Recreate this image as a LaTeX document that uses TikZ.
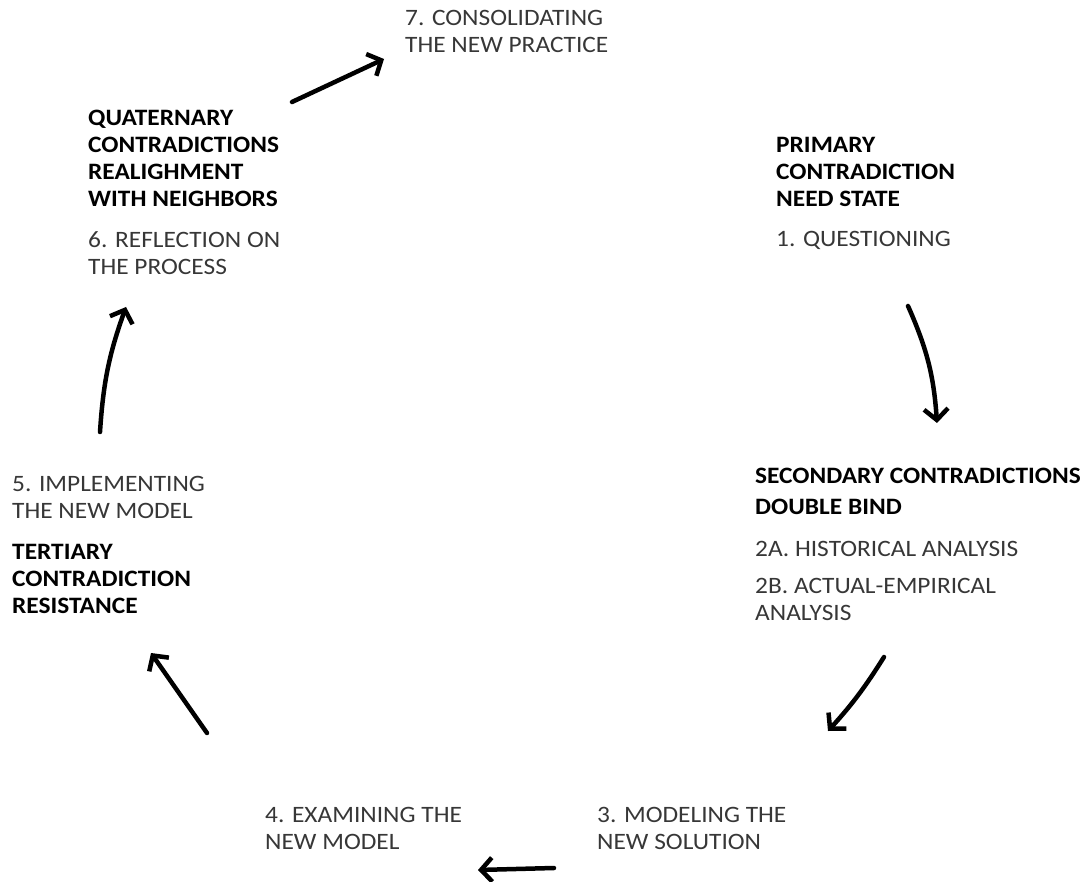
\documentclass[tikz,border=0pt]{standalone}
\usepackage{fontspec}
\setmainfont[FakeStretch=1.08]{Carlito}
\usepackage{xcolor}
\usepackage{tikz}
\usetikzlibrary{arrows.meta}
\tikzset{
  font={\fontsize{23.5pt}{27}\selectfont}
}
\definecolor{colorT}{RGB}{55,55,55}
\tikzstyle{line}=[draw, -{Straight Barb[length=11pt,width=24pt]}, line width=4.5pt, line cap=round, line join=round]
\tikzstyle{lab}=[anchor=north west, inner sep=0pt, align=left, text=colorT]
\newcommand{\hd}[1]{\textcolor{black}{\textbf{#1}}}

\begin{document}
\begin{tikzpicture}[x=1pt, y=1pt]
\useasboundingbox (0,0) rectangle (1085,-882);

%%% Stages
\node[lab] (consolidating) at (405,-10) {7. CONSOLIDATING\\THE NEW PRACTICE};
\node[lab] (quaternary) at (88,-110) {\hd{QUATERNARY}\\\hd{CONTRADICTIONS}\\\hd{REALIGHMENT}\\\hd{WITH NEIGHBORS}\\[14pt]6. REFLECTION ON\\THE PROCESS};
\node[lab] (primary) at (776,-137) {\hd{PRIMARY}\\\hd{CONTRADICTION}\\\hd{NEED STATE}\\[13pt]1. QUESTIONING};
\node[lab] (secondary) at (755,-468) {\hd{SECONDARY CONTRADICTIONS}\\[4pt]\hd{DOUBLE BIND}\\[15pt]2A. HISTORICAL ANALYSIS\\[10pt]2B. ACTUAL-EMPIRICAL\\ANALYSIS};
\node[lab] (modeling) at (597,-807) {3. MODELING THE\\NEW SOLUTION};
\node[lab] (examining) at (265,-807) {4. EXAMINING THE\\NEW MODEL};
\node[lab] (tertiary) at (12,-476) {5. IMPLEMENTING\\THE NEW MODEL\\[14pt]\hd{TERTIARY}\\\hd{CONTRADICTION}\\\hd{RESISTANCE}};

%%% Arrow ends
\coordinate (a1) at (292,-102);
\coordinate (b1) at (384,-59);
\coordinate (a2) at (908,-306);
\coordinate (b2) at (937,-423);
\coordinate (a3) at (884,-657);
\coordinate (b3) at (828,-731);
\coordinate (a4) at (554,-868);
\coordinate (b4) at (478,-870);
\coordinate (a5) at (207,-733);
\coordinate (b5) at (151,-653);
\coordinate (a6) at (100,-432);
\coordinate (b6) at (126,-307);

\draw[line] (a1) -- (b1);
\draw[line] (a2) to[bend left=10] (b2);
\draw[line] (a3) to[bend left=5] (b3);
\draw[line] (a4) -- (b4);
\draw[line] (a5) -- (b5);
\draw[line] (a6) to[bend left=8] (b6);

\end{tikzpicture}
\end{document}
